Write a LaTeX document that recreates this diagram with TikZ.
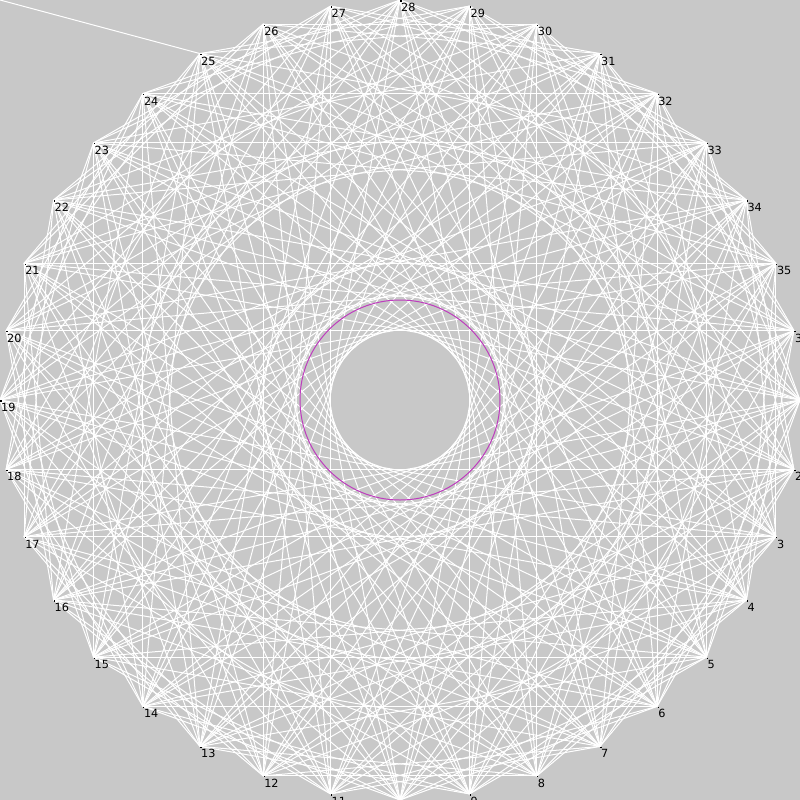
\documentclass[tikz,border=0pt]{standalone}
\usepackage{fontspec}
\setsansfont{DejaVu Sans}
\usetikzlibrary{calc}
\definecolor{canvasgrey}{RGB}{200,200,200}
\definecolor{ringpurple}{RGB}{190,60,190}
\tikzset{
  chord/.style={draw=white, line width=0.5mm},
  ring/.style={draw=ringpurple, line width=0.5mm},
  pinlabel/.style={font=\sffamily\fontsize{16}{16}\selectfont, text=black, anchor=north west, inner sep=0pt},
  pinmark/.style={fill=black, minimum size=0.6mm, inner sep=0pt, rectangle},
}

\begin{document}
\begin{tikzpicture}[x=0.5mm, y=-0.5mm]
  \fill[canvasgrey] (0,0) rectangle (800,800);
  \useasboundingbox (0,0) rectangle (800,800);
  \clip (0,0) rectangle (800,800);
  % pins round the rim
  \foreach \k in {1,...,36}{
    \coordinate (p\k) at ({400+400*cos((\k-1)*10)},{400+400*sin((\k-1)*10)});
  }
  \coordinate (centre) at (400,400);
  \coordinate (origin) at (0,0);
  % threads
  \foreach \s in {4,5,8,10,11,14,15,16}{
    \foreach \i in {1,...,36}{
      \pgfmathtruncatemacro{\j}{mod(\i+\s-1,36)+1}
      \draw[chord] (p\i) -- (p\j);
    }
  }
  \draw[chord] (origin) -- (p25);
  \draw[ring] (centre) circle (100);
  \foreach \k in {1,...,36}{
    \node[pinmark] (m\k) at ($(p\k)+(1,1)$) {};
    \node[pinlabel] (l\k) at ($(p\k)+(1,3)$) {\k};
  }
\end{tikzpicture}
\end{document}
